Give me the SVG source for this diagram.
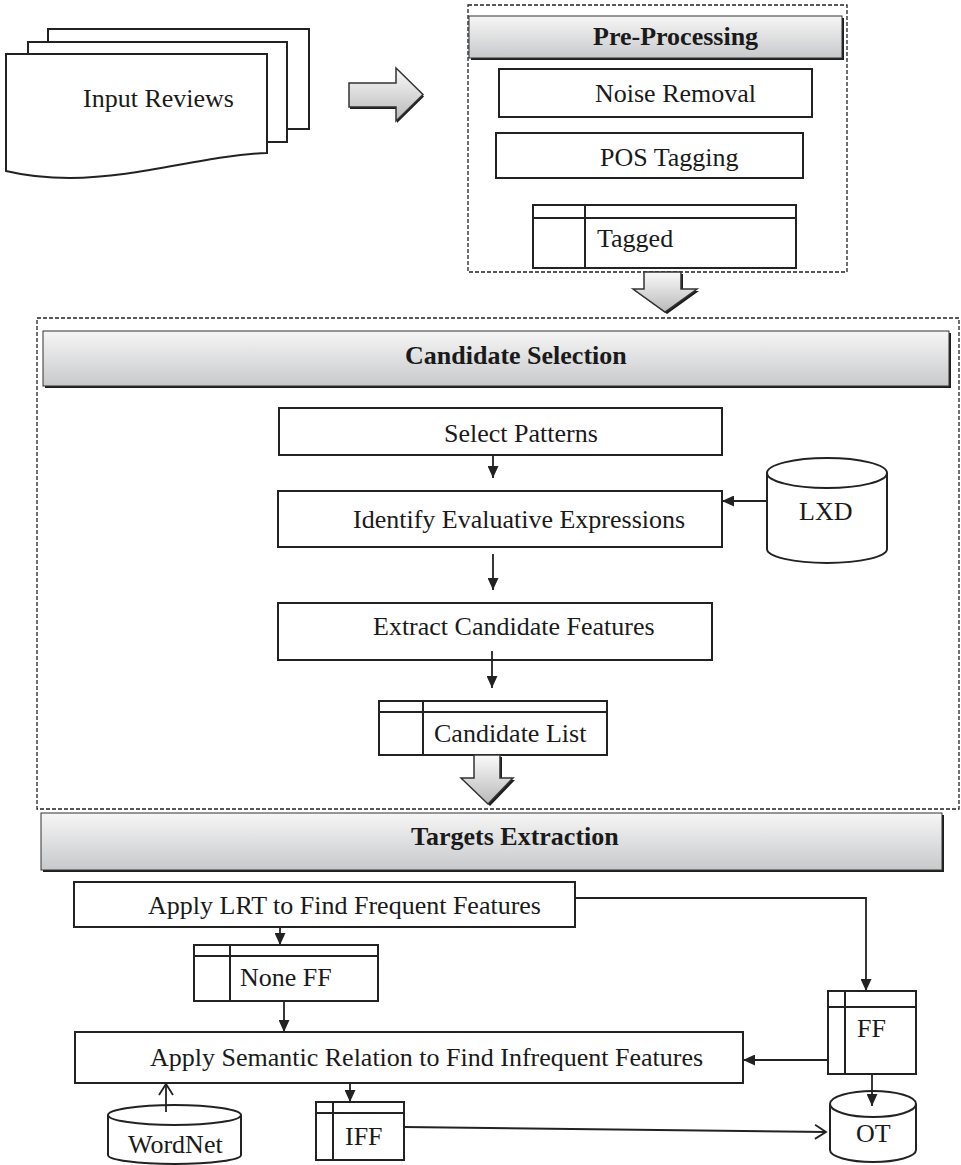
<svg xmlns="http://www.w3.org/2000/svg" width="961" height="1165" viewBox="0 0 961 1165">
<defs>
<style>
.t{font-family:"Liberation Serif","Times New Roman",serif;font-size:26px;fill:#1a1a1a}
.b{font-weight:bold}
.box{fill:#fff;stroke:#222;stroke-width:2}
.dash{fill:none;stroke:#222;stroke-width:1.3;stroke-dasharray:4 2}
.ln{fill:none;stroke:#222;stroke-width:2}
.c{fill:none;stroke:#222;stroke-width:1.8}
.hdr{fill:url(#hg);stroke:#333;stroke-width:1}
.shd{fill:#1e1e1e}
.blk{fill:url(#ag);stroke:#333;stroke-width:1.5}
</style>
<linearGradient id="hg" x1="0" y1="0" x2="0" y2="1">
<stop offset="0" stop-color="#f6f6f6"/>
<stop offset="1" stop-color="#c8c9cb"/>
</linearGradient>
<linearGradient id="ag" x1="0" y1="0" x2="0" y2="1">
<stop offset="0" stop-color="#fafafa"/>
<stop offset="1" stop-color="#b9b9b9"/>
</linearGradient>
<marker id="af" markerUnits="userSpaceOnUse" markerWidth="12" markerHeight="11" refX="12" refY="5.5" orient="auto">
<path d="M0,0 L12,5.5 L0,11 Z" fill="#222"/>
</marker>
<marker id="ao" markerUnits="userSpaceOnUse" markerWidth="14" markerHeight="16" refX="12" refY="8" orient="auto">
<path d="M1,1 L12,8 L1,15" fill="none" stroke="#222" stroke-width="1.8"/>
</marker>
</defs>
<rect width="961" height="1165" fill="#fff"/>

<g id="input-reviews">
<rect x="48" y="29" width="261" height="100" class="box"/>
<rect x="28" y="42" width="259" height="100" class="box"/>
<path d="M6,54 H267 V153 C205,155 140,178 70,178 Q35,178 6,171 Z" class="box"/>
<text x="83" y="107" class="t">Input Reviews</text>
</g>

<g id="arrow-right">
<path d="M350,85 H397 V70 L424,96.5 L397,123 V109 H350 Z" class="shd"/>
<path d="M349,83 H396 V68 L423,94.5 L396,121 V107 H349 Z" class="blk"/>
</g>

<g id="pre-processing">
<rect x="468" y="5" width="379" height="267" class="dash"/>
<rect x="471" y="18" width="373" height="42" class="shd"/>
<rect x="469" y="16" width="373" height="42" class="hdr"/>
<text x="593" y="45" class="t b">Pre-Processing</text>
</g>
<g id="noise-removal">
<rect x="499" y="69" width="313" height="48" class="box"/>
<text x="595" y="102" class="t">Noise Removal</text>
</g>
<g id="pos-tagging">
<rect x="496" y="133" width="307" height="45" class="box"/>
<text x="600" y="166" class="t">POS Tagging</text>
</g>
<g id="tagged">
<rect x="533" y="205" width="263" height="63" class="box"/>
<line x1="533" y1="218" x2="796" y2="218" class="ln"/>
<line x1="585" y1="205" x2="585" y2="268" class="ln"/>
<text x="597" y="247" class="t">Tagged</text>
</g>

<g id="arrow-down-1">
<path d="M646,274 H683 V291 H699 L667,314 L635,291 H646 Z" class="shd"/>
<path d="M644,272 H681 V289 H697 L665,312 L633,289 H644 Z" class="blk"/>
</g>

<g id="candidate-selection">
<rect x="37" y="318" width="922" height="491" class="dash"/>
<rect x="45" y="333" width="906" height="55" class="shd"/>
<rect x="43" y="331" width="906" height="55" class="hdr"/>
<text x="405" y="364" class="t b">Candidate Selection</text>
</g>
<g id="select-patterns">
<rect x="279" y="408" width="443" height="47" class="box"/>
<text x="444" y="442" class="t">Select Patterns</text>
</g>
<g id="identify">
<rect x="278" y="491" width="444" height="56" class="box"/>
<text x="353" y="528" class="t">Identify Evaluative Expressions</text>
</g>
<g id="lxd">
<path d="M767,473 V549 A60,14 0 0 0 887,549 V473 A60,15 0 0 0 767,473 Z" class="box"/>
<path d="M767,473 A60,15 0 0 0 887,473" class="box"/>
<text x="799" y="520" class="t">LXD</text>
</g>
<g id="extract">
<rect x="278" y="603" width="434" height="57" class="box"/>
<text x="373" y="635" class="t">Extract Candidate Features</text>
</g>
<g id="candidate-list">
<rect x="379" y="701" width="228" height="54" class="box"/>
<line x1="379" y1="712" x2="607" y2="712" class="ln"/>
<line x1="423" y1="701" x2="423" y2="755" class="ln"/>
<text x="434" y="742" class="t">Candidate List</text>
</g>

<g id="arrow-down-2">
<path d="M476,757 H502 V780 H515 L490,806 L463,780 H476 Z" class="shd"/>
<path d="M474,755 H500 V778 H513 L488,804 L461,778 H474 Z" class="blk"/>
</g>

<g id="targets-extraction">
<rect x="43" y="815" width="901" height="57" class="shd"/>
<rect x="41" y="813" width="901" height="57" class="hdr"/>
<text x="411" y="845" class="t b">Targets Extraction</text>
</g>
<g id="apply-lrt">
<rect x="74" y="882" width="501" height="45" class="box"/>
<text x="148" y="914" class="t">Apply LRT to Find Frequent Features</text>
</g>
<g id="none-ff">
<rect x="194" y="945" width="184" height="56" class="box"/>
<line x1="194" y1="956" x2="378" y2="956" class="ln"/>
<line x1="230" y1="945" x2="230" y2="1001" class="ln"/>
<text x="240" y="986" class="t">None FF</text>
</g>
<g id="ff">
<rect x="828" y="991" width="88" height="83" class="box"/>
<line x1="828" y1="1007" x2="916" y2="1007" class="ln"/>
<line x1="845" y1="991" x2="845" y2="1074" class="ln"/>
<text x="857" y="1037" class="t">FF</text>
</g>
<g id="apply-semantic">
<rect x="75" y="1032" width="668" height="51" class="box"/>
<text x="150" y="1066" class="t">Apply Semantic Relation to Find Infrequent Features</text>
</g>
<g id="wordnet">
<path d="M108,1115 V1155 A66.5,9 0 0 0 241,1155 V1115 A66.5,10 0 0 0 108,1115 Z" class="box"/>
<path d="M108,1115 A66.5,10 0 0 0 241,1115" class="box"/>
<text x="128" y="1153" class="t">WordNet</text>
</g>
<g id="iff">
<rect x="316" y="1102" width="88" height="58" class="box"/>
<line x1="316" y1="1113" x2="404" y2="1113" class="ln"/>
<line x1="333" y1="1102" x2="333" y2="1160" class="ln"/>
<text x="345" y="1145" class="t">IFF</text>
</g>
<g id="ot">
<path d="M830,1104 V1150 A43,12 0 0 0 916,1150 V1104 A43,13 0 0 0 830,1104 Z" class="box"/>
<path d="M830,1104 A43,13 0 0 0 916,1104" class="box"/>
<text x="856" y="1142" class="t">OT</text>
</g>

<g id="connectors">
<line x1="493" y1="455" x2="493" y2="478" class="c" marker-end="url(#af)"/>
<line x1="767" y1="501" x2="722" y2="501" class="c" marker-end="url(#af)"/>
<line x1="493" y1="554" x2="493" y2="590" class="c" marker-end="url(#af)"/>
<line x1="492" y1="651" x2="492" y2="688" class="c" marker-end="url(#af)"/>
<line x1="280" y1="927" x2="280" y2="945" class="c" marker-end="url(#af)"/>
<polyline points="575,898 866,898 866,991" class="c" marker-end="url(#af)"/>
<line x1="284" y1="1001" x2="284" y2="1032" class="c" marker-end="url(#af)"/>
<line x1="828" y1="1060" x2="743" y2="1060" class="c" marker-end="url(#af)"/>
<line x1="872" y1="1074" x2="872" y2="1106" class="c" marker-end="url(#af)"/>
<line x1="350" y1="1083" x2="350" y2="1102" class="c" marker-end="url(#af)"/>
<line x1="166" y1="1112" x2="166" y2="1084" class="c" marker-end="url(#ao)"/>
<line x1="404" y1="1127" x2="826" y2="1132" class="c" marker-end="url(#ao)"/>
</g>
</svg>
